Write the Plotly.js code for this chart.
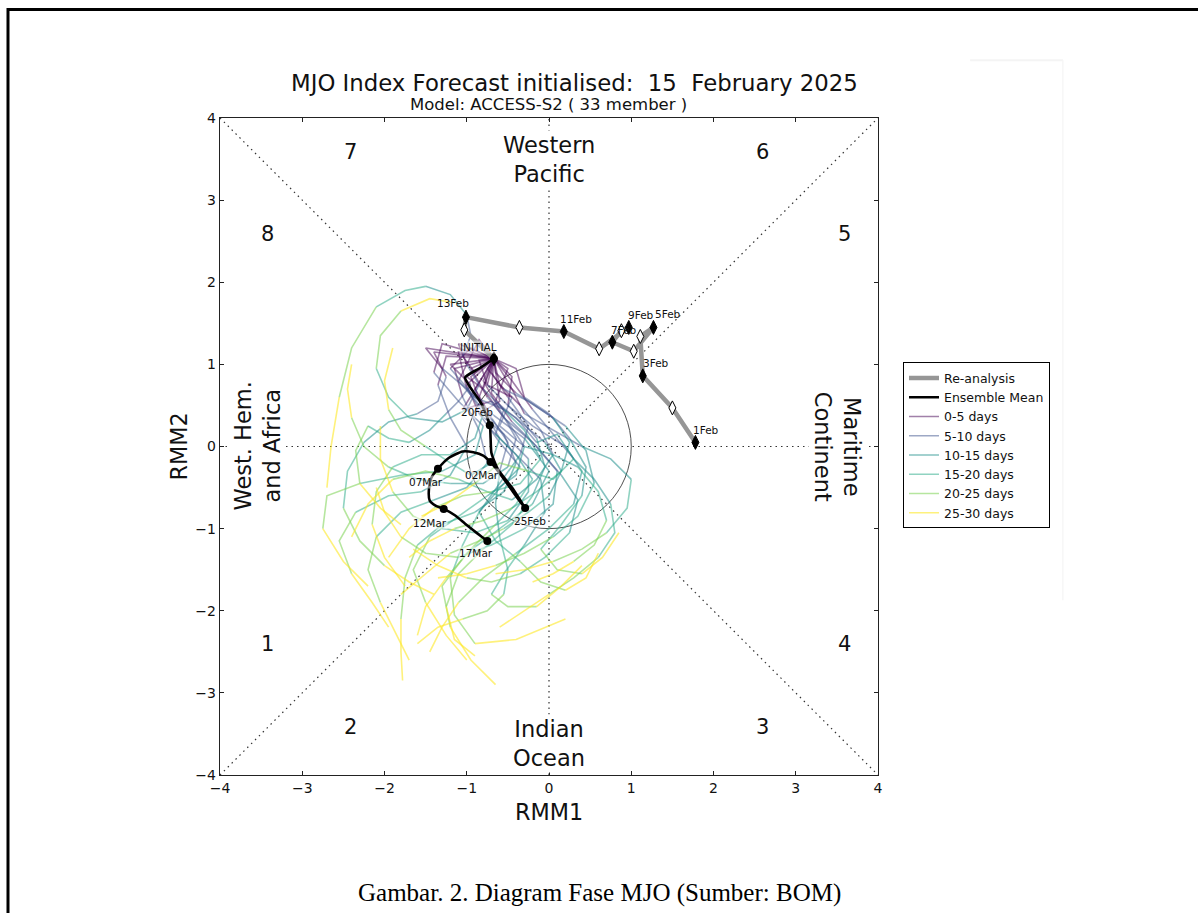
<!DOCTYPE html>
<html>
<head>
<meta charset="utf-8">
<script src="https://cdn.plot.ly/plotly-3.0.1.min.js"></script>
<style>
  html, body { margin: 0; padding: 0; background: #fff; }
  #chart { width: 1198px; height: 913px; }
</style>
</head>
<body>
<div id="chart"></div>
<script>
// ---------------- DATA ----------------
// Re-analysis (observed) trajectory, 1 Feb .. 15 Feb 2025
const reDates = ['1Feb','2Feb','3Feb','4Feb','5Feb','6Feb','7Feb','8Feb','9Feb','10Feb','11Feb','12Feb','13Feb','14Feb','15Feb'];
const reRMM1  = [1.78, 1.50, 1.14, 1.11, 1.27, 1.03, 0.77, 0.88, 0.97, 0.61, 0.18, -0.36, -1.01, -1.03, -0.67];
const reRMM2  = [0.05, 0.47, 0.86, 1.34, 1.45, 1.16, 1.27, 1.41, 1.45, 1.19, 1.40, 1.45, 1.575, 1.42, 1.07];

// Ensemble mean forecast, daily from 15 Feb (INITIAL) to 17 Mar
const emRMM1 = [-0.67,-0.85,-1.02,-0.93,-0.82,-0.72,-0.71,-0.70,-0.62,-0.45,-0.29,-0.36,-0.46,-0.56,-0.65,-0.71,-0.80,-0.92,-1.05,-1.22,-1.35,-1.43,-1.46,-1.45,-1.38,-1.28,-1.14,-1.02,-0.92,-0.83,-0.75];
const emRMM2 = [1.07,0.95,0.84,0.68,0.52,0.26,0.10,-0.08,-0.28,-0.50,-0.75,-0.66,-0.52,-0.38,-0.26,-0.19,-0.11,-0.07,-0.06,-0.14,-0.27,-0.38,-0.52,-0.66,-0.72,-0.76,-0.84,-0.94,-1.02,-1.09,-1.15];
const emLabelDays = [0, 5, 10, 15, 20, 25, 30];
const emLabels = ['INITIAL','20Feb','25Feb','02Mar','07Mar','12Mar','17Mar'];

// Ensemble members (33), one point every 2.5 days (day 0 .. 30)
const memberRMM1 = [
  [-0.67,-0.95,-0.80,-0.55,-0.40,-0.55,-0.90,-1.30,-1.60,-1.75,-1.80,-1.80,-1.78],
  [-0.67,-1.10,-1.00,-0.70,-0.30,0.00,-0.20,-0.60,-1.00,-1.30,-1.20,-0.95,-0.65],
  [-0.67,-0.80,-0.55,-0.20,0.10,0.05,-0.30,-0.70,-1.10,-1.50,-1.80,-2.00,-2.10],
  [-0.67,-1.30,-1.40,-1.10,-0.80,-0.90,-1.30,-1.80,-2.30,-2.70,-2.75,-2.50,-2.20],
  [-0.67,-0.45,-0.50,-0.20,0.20,0.40,0.30,0.00,-0.40,-0.80,-1.10,-1.30,-1.45],
  [-0.67,-0.90,-1.05,-0.95,-1.00,-1.20,-1.50,-1.75,-2.10,-2.40,-2.55,-2.65,-2.70],
  [-0.67,-0.60,-0.35,-0.10,0.05,-0.15,-0.45,-0.75,-1.10,-1.50,-1.90,-2.20,-2.40],
  [-0.67,-0.85,-0.70,-0.40,-0.10,-0.05,-0.30,-0.55,-0.70,-0.50,-0.15,0.15,0.40],
  [-0.67,-0.95,-0.75,-0.50,-0.30,-0.40,-0.75,-1.10,-1.45,-1.65,-1.50,-1.25,-1.00],
  [-0.67,-0.70,-0.45,-0.15,0.15,0.35,0.25,-0.05,-0.35,-0.70,-1.00,-1.35,-1.65],
  [-0.67,-1.15,-1.05,-0.85,-0.75,-1.00,-1.40,-1.80,-2.10,-2.20,-2.05,-1.85,-1.70],
  [-0.67,-0.40,-0.30,0.00,0.25,0.45,0.40,0.15,-0.10,0.10,0.40,0.65,0.85],
  [-0.67,-1.25,-1.35,-1.20,-1.00,-1.20,-1.55,-1.95,-2.35,-2.55,-2.40,-2.15,-1.95],
  [-0.67,-0.80,-0.60,-0.40,-0.50,-0.80,-1.20,-1.60,-1.95,-2.25,-2.40,-2.45,-2.40],
  [-0.67,-0.45,-0.20,0.05,0.30,0.55,0.75,0.80,0.60,0.30,0.00,-0.30,-0.60],
  [-0.67,-1.00,-0.85,-0.55,-0.25,-0.25,-0.50,-0.90,-1.30,-1.65,-1.90,-2.05,-2.05],
  [-0.67,-0.65,-0.40,-0.10,0.20,0.45,0.55,0.35,0.05,-0.30,-0.65,-1.00,-1.35],
  [-0.67,-1.40,-1.25,-1.35,-1.60,-1.95,-2.25,-2.45,-2.50,-2.30,-2.00,-1.70,-1.40],
  [-0.67,-0.90,-0.70,-0.50,-0.60,-0.65,-0.60,-0.50,-0.55,-0.75,-1.05,-1.35,-1.60],
  [-0.67,-0.75,-0.55,-0.25,0.05,0.25,0.15,-0.15,-0.45,-0.80,-1.15,-1.45,-1.70],
  [-0.67,-1.10,-1.00,-0.85,-1.00,-1.30,-1.70,-1.95,-2.10,-2.05,-1.80,-1.45,-1.15],
  [-0.67,-0.85,-0.75,-0.45,-0.15,-0.05,-0.20,-0.45,-0.80,-1.10,-1.25,-1.15,-0.90],
  [-0.67,-0.70,-0.50,-0.25,-0.35,-0.60,-0.85,-1.05,-1.20,-1.15,-0.90,-0.40,0.20],
  [-0.67,-0.45,-0.30,0.05,0.40,0.75,1.00,0.95,0.70,0.40,0.05,-0.30,-0.65],
  [-0.67,-1.50,-1.30,-1.00,-0.80,-0.90,-1.20,-1.55,-1.90,-2.10,-2.15,-2.00,-1.75],
  [-0.67,-0.95,-1.20,-0.90,-0.55,-0.30,-0.10,-0.35,-0.70,-1.05,-1.40,-1.70,-1.95],
  [-0.67,-0.60,-0.85,-0.60,-0.35,-0.55,-0.85,-0.65,-0.35,-0.10,0.20,0.45,0.60],
  [-0.67,-1.05,-0.70,-0.40,-0.15,0.10,0.30,0.05,-0.25,-0.60,-0.90,-1.25,-1.55],
  [-0.67,-1.20,-0.95,-1.10,-1.25,-1.45,-1.70,-1.95,-2.20,-2.35,-2.30,-2.05,-1.80],
  [-0.67,-0.50,-0.65,-0.35,-0.05,0.15,0.00,-0.25,-0.55,-0.85,-1.20,-1.50,-1.80],
  [-0.67,-0.85,-1.10,-0.80,-0.60,-0.70,-0.95,-1.20,-1.50,-1.80,-1.95,-2.00,-1.90],
  [-0.67,-0.75,-0.45,-0.60,-0.30,0.05,0.35,0.60,0.70,0.55,0.30,0.05,-0.20],
  [-0.67,-1.00,-0.80,-0.55,-0.65,-0.40,-0.20,-0.40,-0.65,-0.95,-1.25,-1.50,-1.60]
];
const memberRMM2 = [
  [1.07,0.85,0.45,0.15,-0.20,-0.55,-0.80,-0.95,-1.20,-1.60,-2.10,-2.50,-2.85],
  [1.07,1.15,0.70,0.40,0.10,-0.30,-0.70,-1.00,-1.30,-1.70,-2.20,-2.60,-2.90],
  [1.07,0.70,0.35,0.05,-0.30,-0.70,-1.00,-1.20,-1.35,-1.30,-1.10,-0.80,-0.50],
  [1.07,1.25,0.90,0.55,0.25,-0.10,-0.30,-0.35,-0.45,-0.60,-1.00,-1.40,-1.70],
  [1.07,0.85,0.50,0.25,0.00,-0.30,-0.70,-1.00,-1.30,-1.60,-1.90,-2.20,-2.50],
  [1.07,0.90,1.10,1.35,1.60,1.85,1.95,1.90,1.70,1.20,0.60,0.00,-0.50],
  [1.07,0.75,0.50,0.20,-0.10,-0.40,-0.65,-0.55,-0.40,-0.30,-0.40,-0.70,-1.10],
  [1.07,0.60,0.20,-0.10,-0.40,-0.80,-1.20,-1.55,-1.80,-1.95,-1.95,-1.70,-1.45],
  [1.07,0.95,0.60,0.30,0.00,-0.35,-0.60,-0.85,-1.10,-1.50,-1.90,-2.30,-2.60],
  [1.07,0.65,0.30,0.00,-0.35,-0.65,-1.05,-1.35,-1.55,-1.65,-1.60,-1.45,-1.25],
  [1.07,0.95,0.60,0.20,-0.20,-0.50,-0.65,-0.80,-1.10,-1.50,-1.90,-2.30,-2.60],
  [1.07,0.95,0.60,0.40,0.10,-0.25,-0.60,-0.95,-1.25,-1.50,-1.55,-1.35,-1.05],
  [1.07,1.10,0.75,0.35,0.00,-0.35,-0.55,-0.60,-0.80,-1.15,-1.55,-1.90,-2.20],
  [1.07,0.80,0.45,0.10,-0.25,-0.45,-0.45,-0.40,-0.25,0.00,0.35,0.70,1.00],
  [1.07,0.80,0.45,0.15,-0.15,-0.40,-0.70,-1.05,-1.35,-1.60,-1.80,-2.00,-2.20],
  [1.07,0.75,0.40,0.15,-0.15,-0.55,-0.90,-1.05,-1.00,-0.85,-0.55,-0.15,0.25],
  [1.07,0.90,0.65,0.45,0.25,-0.05,-0.45,-0.85,-1.10,-1.30,-1.45,-1.55,-1.60],
  [1.07,1.15,0.85,0.55,0.40,0.30,0.05,-0.30,-0.75,-1.15,-1.45,-1.65,-1.80],
  [1.07,0.70,0.35,0.05,-0.30,-0.70,-1.10,-1.50,-1.80,-2.00,-2.10,-2.20,-2.40],
  [1.07,0.95,0.70,0.55,0.35,0.05,-0.30,-0.55,-0.75,-0.90,-1.00,-1.15,-1.35],
  [1.07,1.25,1.00,0.75,0.45,0.30,0.35,0.60,0.95,1.35,1.65,1.80,1.75],
  [1.07,1.05,0.75,0.45,0.10,-0.25,-0.60,-0.95,-1.25,-1.55,-1.95,-2.35,-2.55],
  [1.07,0.90,0.60,0.25,-0.10,-0.45,-0.80,-1.20,-1.60,-2.05,-2.40,-2.35,-2.10],
  [1.07,0.70,0.40,0.20,0.00,-0.15,-0.40,-0.75,-1.05,-1.25,-1.40,-1.50,-1.55],
  [1.07,1.20,0.95,0.70,0.40,0.10,-0.10,-0.10,-0.25,-0.55,-0.95,-1.35,-1.70],
  [1.07,1.20,0.95,0.60,0.45,0.20,-0.15,-0.45,-0.55,-0.60,-0.75,-1.00,-1.35],
  [1.07,0.55,0.40,0.05,-0.25,-0.45,-0.80,-1.15,-1.40,-1.65,-1.75,-1.60,-1.30],
  [1.07,0.45,0.55,0.35,0.05,0.15,-0.15,-0.40,-0.30,-0.20,-0.45,-0.70,-0.85],
  [1.07,1.00,0.75,0.55,0.40,0.20,0.05,0.10,0.25,-0.05,-0.45,-0.75,-0.95],
  [1.07,0.95,0.55,0.30,0.05,-0.30,-0.60,-0.80,-1.00,-1.15,-1.30,-1.55,-1.80],
  [1.07,1.30,0.80,0.45,0.10,-0.20,-0.35,-0.20,0.00,0.20,0.45,0.80,1.20],
  [1.07,0.75,0.60,0.25,0.00,-0.10,-0.25,-0.55,-0.90,-1.20,-1.40,-1.55,-1.65],
  [1.07,0.85,0.70,0.45,0.15,-0.10,-0.40,-0.70,-0.95,-1.25,-1.60,-1.95,-2.30]
];
const binNames = ['0-5 days','5-10 days','10-15 days','15-20 days','20-25 days','25-30 days'];

// Phase numbers and region names
const phaseNames = ['1','2','3','4','5','6','7','8'];
const phaseRMM1  = [-3.42,-2.41, 2.59, 3.59, 3.59, 2.59,-2.41,-3.42];
const phaseRMM2  = [-2.41,-3.42,-3.42,-2.41, 2.59, 3.58, 3.58, 2.59];
const regionNames = ['Western<br>Pacific','Indian<br>Ocean','West. Hem.<br>and Africa','Maritime<br>Continent'];
const regionRMM1  = [0, 0, -3.55, 3.51];
const regionRMM2  = [3.50, -3.62, 0, 0];

// ---------------- STYLE ----------------
const FONT = 'DejaVu Sans, Verdana, sans-serif';
const binColors = ['rgba(68,1,84,0.5)','rgba(59,82,139,0.5)','rgba(33,144,141,0.55)',
                   'rgba(34,168,132,0.5)','rgba(122,209,81,0.55)','rgba(253,231,37,0.6)'];
const regionAngles = [0, 0, -90, 90];
const reLabelShift = {'1Feb':[11,12],'3Feb':[13,13],'5Feb':[15,13],'7Feb':[12,12],'9Feb':[12,12],'11Feb':[12,13],'13Feb':[-13,14]};
const emLabelShift = [[-15,12],[-13,13],[5,-13],[-9,-13],[-12,-13],[-14,-14],[-11,-12]];

// ---------------- TRACES ----------------
const traces = [];
const ptsPerBin = 2; // 2.5-day spacing -> 2 steps per 5-day bin
binNames.forEach((name, k) => {
  const xs = [], ys = [];
  memberRMM1.forEach((mx, m) => {
    const my = memberRMM2[m];
    for (let i = k * ptsPerBin; i <= (k + 1) * ptsPerBin && i < mx.length; i++) {
      xs.push(mx[i]); ys.push(my[i]);
    }
    xs.push(null); ys.push(null);
  });
  traces.push({
    type: 'scatter', mode: 'lines', x: xs, y: ys, name: name,
    line: {color: binColors[k], width: 1.6},
    legendrank: 3 + k, hoverinfo: 'skip'
  });
});

// Re-analysis line
traces.push({
  type: 'scatter', mode: 'lines', x: reRMM1, y: reRMM2, name: 'Re-analysis',
  line: {color: 'rgb(150,150,150)', width: 4.5}, legendrank: 1
});
const fillIdx = reDates.map((d, i) => i).filter(i => i % 2 === 0);
const openIdx = reDates.map((d, i) => i).filter(i => i % 2 === 1);
traces.push({
  type: 'scatter', mode: 'markers', showlegend: false,
  x: openIdx.map(i => reRMM1[i]), y: openIdx.map(i => reRMM2[i]),
  marker: {symbol: 'diamond-tall', size: 10, color: 'white', line: {color: 'black', width: 1}}
});
traces.push({
  type: 'scatter', mode: 'markers', showlegend: false,
  x: fillIdx.map(i => reRMM1[i]), y: fillIdx.map(i => reRMM2[i]),
  marker: {symbol: 'diamond-tall', size: 10, color: 'black', line: {color: 'black', width: 1}}
});

// Ensemble mean
traces.push({
  type: 'scatter', mode: 'lines', x: emRMM1, y: emRMM2, name: 'Ensemble Mean',
  line: {color: 'black', width: 2.6, shape: 'spline', smoothing: 0.6}, legendrank: 2
});
traces.push({
  type: 'scatter', mode: 'markers', showlegend: false,
  x: emLabelDays.map(i => emRMM1[i]), y: emLabelDays.map(i => emRMM2[i]),
  marker: {symbol: 'circle', size: 8, color: 'black'}
});

// ---------------- ANNOTATIONS ----------------
const annotations = [];
fillIdx.forEach(i => {
  const d = reDates[i];
  if (!reLabelShift[d]) return;
  annotations.push({x: reRMM1[i], y: reRMM2[i], xref: 'x', yref: 'y', text: d, showarrow: false,
    xanchor: 'center', yanchor: 'middle',
    xshift: reLabelShift[d][0], yshift: reLabelShift[d][1],
    font: {family: FONT, size: 10.5, color: '#111'}});
});
emLabelDays.forEach((i, j) => {
  annotations.push({x: emRMM1[i], y: emRMM2[i], xref: 'x', yref: 'y', text: emLabels[j], showarrow: false,
    xanchor: 'center', yanchor: 'middle',
    xshift: emLabelShift[j][0], yshift: emLabelShift[j][1], bgcolor: 'rgba(255,255,255,0.5)', borderpad: 0,
    font: {family: FONT, size: 10.5, color: '#111'}});
});
phaseNames.forEach((p, i) => {
  annotations.push({x: phaseRMM1[i], y: phaseRMM2[i], xref: 'x', yref: 'y', text: p, showarrow: false,
    xanchor: 'center', yanchor: 'middle',
    font: {family: FONT, size: 21, color: '#111'}});
});
regionNames.forEach((r, i) => {
  annotations.push({x: regionRMM1[i], y: regionRMM2[i], xref: 'x', yref: 'y', text: r, showarrow: false,
    xanchor: 'center', yanchor: 'middle',
    textangle: regionAngles[i], bgcolor: 'white', borderpad: 1,
    font: {family: FONT, size: 22.5, color: '#111'}});
});
const paperText = (x, y, text, size, extra) => Object.assign({x: x, y: y, xref: 'paper', yref: 'paper',
  showarrow: false, xanchor: 'center', yanchor: 'middle', text: text,
  font: {family: FONT, size: size, color: '#111'}}, extra || {});
annotations.push(paperText(0.538, 1.053, 'MJO Index Forecast initialised:  15  February 2025', 22.8));
annotations.push(paperText(0.4985, 1.0198, 'Model: ACCESS-S2 ( 33 member )', 16.5));
annotations.push(paperText(0.5, -0.0563, 'RMM1', 22.3));
annotations.push(paperText(-0.0638, 0.5, 'RMM2', 22.3, {textangle: -90}));
annotations.push(paperText(0.576, -0.18, 'Gambar. 2. Diagram Fase MJO (Sumber: BOM)', 25,
  {font: {family: 'Liberation Serif, Times New Roman, serif', size: 25, color: '#000'}}));

// ---------------- SHAPES ----------------
const dotted = {color: '#333', width: 1.2, dash: '1.5px,4px'};
const shapes = [
  {type: 'line', xref: 'x', yref: 'y', x0: -4, y0: 0, x1: 4, y1: 0, line: dotted, layer: 'below'},
  {type: 'line', xref: 'x', yref: 'y', x0: 0, y0: -4, x1: 0, y1: 4, line: dotted, layer: 'below'},
  {type: 'line', xref: 'x', yref: 'y', x0: -4, y0: -4, x1: 4, y1: 4, line: dotted, layer: 'below'},
  {type: 'line', xref: 'x', yref: 'y', x0: -4, y0: 4, x1: 4, y1: -4, line: dotted, layer: 'below'},
  {type: 'circle', xref: 'x', yref: 'y', x0: -1, y0: -1, x1: 1, y1: 1, line: {color: '#222', width: 0.8}, layer: 'below'},
  // page frame of the document
  {type: 'line', xref: 'paper', yref: 'paper', x0: -0.3222, y0: 1.1651, x1: 1.6, y1: 1.1651, line: {color: 'black', width: 3}},
  {type: 'line', xref: 'paper', yref: 'paper', x0: -0.3222, y0: 1.1674, x1: -0.3222, y1: -0.3, line: {color: 'black', width: 3}},
  // faint scan artefacts
  {type: 'line', xref: 'paper', yref: 'paper', x0: 1.281, y0: 1.088, x1: 1.281, y1: 0.266, line: {color: '#f2f2f2', width: 1}},
  {type: 'line', xref: 'paper', yref: 'paper', x0: 1.14, y0: 1.088, x1: 1.281, y1: 1.088, line: {color: '#f4f4f4', width: 2}}
];

// ---------------- LAYOUT ----------------
const axisCommon = {
  range: [-4, 4], dtick: 1, tick0: -4, ticks: 'inside', ticklen: 4, tickcolor: '#222',
  showline: true, linecolor: '#222', linewidth: 1.2, mirror: 'ticks',
  showgrid: false, zeroline: false, fixedrange: true,
  tickfont: {family: FONT, size: 14, color: '#111'}
};
const layout = {
  width: 1198, height: 913,
  margin: {l: 220, r: 320, t: 118, b: 138, pad: 0},
  paper_bgcolor: 'white', plot_bgcolor: 'white',
  xaxis: Object.assign({}, axisCommon),
  yaxis: Object.assign({}, axisCommon),
  showlegend: true,
  legend: {x: 1.038, xanchor: 'left', y: 0.628, yanchor: 'top',
    bordercolor: 'black', borderwidth: 1, bgcolor: 'white',
    font: {family: FONT, size: 12.5, color: '#111'}, tracegroupgap: 0, itemwidth: 30},
  annotations: annotations,
  shapes: shapes,
  hovermode: false
};

Plotly.newPlot('chart', traces, layout, {displayModeBar: false, staticPlot: true});
</script>
</body>
</html>
